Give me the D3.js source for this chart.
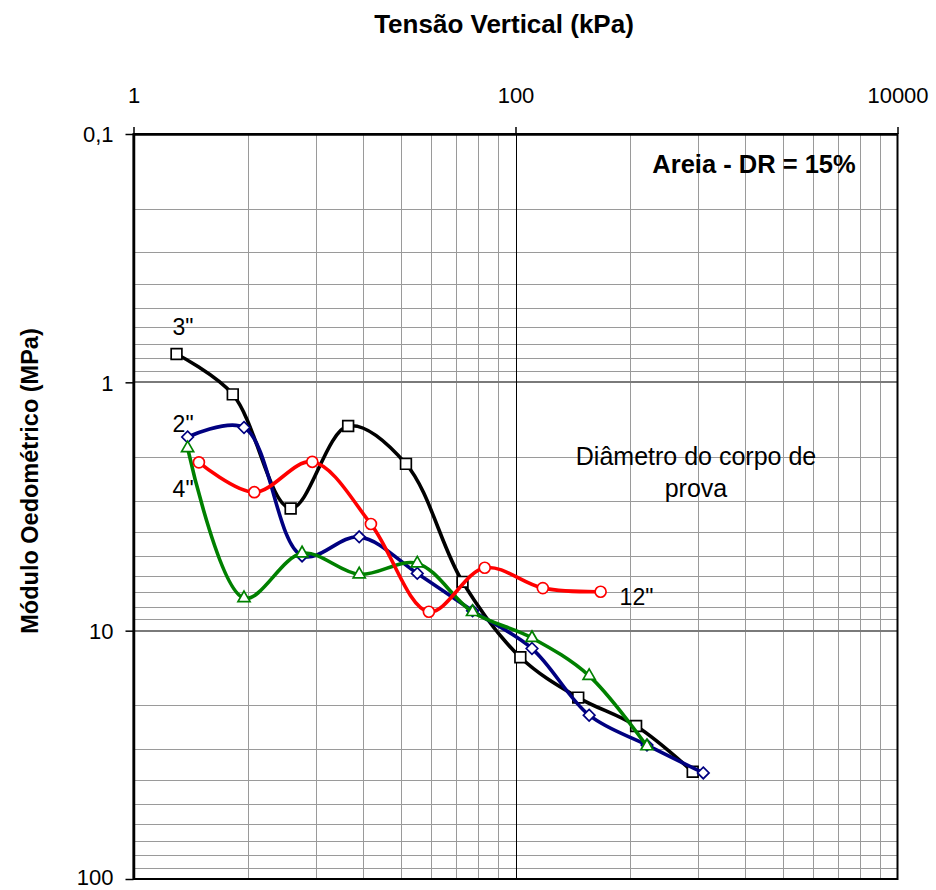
<!DOCTYPE html>
<html>
<head>
<meta charset="utf-8">
<script src="https://cdn.jsdelivr.net/npm/d3@7"></script>
<style>
  html, body { margin: 0; padding: 0; background: #fff; }
  svg { display: block; font-family: "Liberation Sans", Arial, sans-serif; }
</style>
</head>
<body>
<svg id="chart" width="936" height="890"></svg>
<script>
// Vertical stress (kPa) and oedometric modulus (MPa) for each specimen diameter
const stress3 = [1.68, 3.31, 6.65, 13.3, 26.7, 52.8, 106, 213, 428, 847];
const modulus3 = [0.769, 1.118, 3.22, 1.50, 2.13, 6.36, 12.8, 18.6, 24.2, 37.0];

const stress2 = [1.92, 3.79, 7.63, 15.2, 30.6, 59.6, 122, 243, 488, 962];
const modulus2 = [1.66, 1.52, 5.0, 4.19, 5.88, 8.31, 11.8, 21.9, 28.9, 37.4];

const stress4 = [1.92, 3.79, 7.63, 15.2, 30.6, 59.6, 122, 243, 488];
const modulus4 = [1.84, 7.39, 4.88, 5.93, 5.36, 8.41, 10.7, 15.2, 29.2];

const stress12 = [2.20, 4.29, 8.63, 17.5, 35.2, 69.0, 139, 279];
const modulus12 = [2.10, 2.77, 2.09, 3.72, 8.39, 5.58, 6.74, 6.97];

const xTickValues = [1, 100, 10000];
const xTickLabels = ["1", "100", "10000"];
const yTickValues = [0.1, 1, 10, 100];
const yTickLabels = ["0,1", "1", "10", "100"];

const seriesNames = ['3"', '2"', '4"', '12"'];

const svg = d3.select("#chart");
const plotLeft = 133.5, plotRight = 897.5, plotTop = 134, plotBottom = 879;

const x = d3.scaleLog().domain([1, 10000]).range([plotLeft, plotRight]);
const y = d3.scaleLog().domain([0.1, 100]).range([plotTop, plotBottom]);

// Minor gridlines: the x axis steps by a factor of 100, so its minor lines sit at k² within each step
const xMinor = [];
[1, 100].forEach(m => { for (let k = 2; k <= 9; k++) xMinor.push(m * k * k); });
const yMinor = [];
[0.1, 1, 10].forEach(m => { for (let k = 2; k <= 9; k++) yMinor.push(m * k); });

const grid = svg.append("g").attr("shape-rendering", "crispEdges");
grid.selectAll(".xm").data(xMinor).join("line")
  .attr("x1", d => Math.round(x(d)) + 0.5).attr("x2", d => Math.round(x(d)) + 0.5)
  .attr("y1", plotTop).attr("y2", plotBottom)
  .attr("stroke", "#9a9a9a").attr("stroke-width", 1);
grid.selectAll(".ym").data(yMinor).join("line")
  .attr("x1", plotLeft).attr("x2", plotRight)
  .attr("y1", d => Math.round(y(d)) + 0.5).attr("y2", d => Math.round(y(d)) + 0.5)
  .attr("stroke", "#9a9a9a").attr("stroke-width", 1);
grid.selectAll(".yM").data([1, 10]).join("line")
  .attr("x1", plotLeft).attr("x2", plotRight)
  .attr("y1", d => Math.round(y(d))).attr("y2", d => Math.round(y(d)))
  .attr("stroke", "#7a7a7a").attr("stroke-width", 2);
grid.selectAll(".xM").data([100]).join("line")
  .attr("x1", d => Math.round(x(d)) + 0.5).attr("x2", d => Math.round(x(d)) + 0.5)
  .attr("y1", plotTop).attr("y2", plotBottom)
  .attr("stroke", "#000").attr("stroke-width", 1);

// Plot frame
svg.append("rect")
  .attr("x", plotLeft).attr("y", plotTop).attr("width", plotRight - plotLeft).attr("height", plotBottom - plotTop)
  .attr("fill", "none").attr("stroke", "#000").attr("stroke-width", 2);

// Axes
const xAxis = d3.axisTop(x).tickValues(xTickValues)
  .tickFormat((d, i) => xTickLabels[i]).tickSize(7).tickSizeOuter(0).tickPadding(24);
const gx = svg.append("g").attr("transform", `translate(0,${plotTop})`).call(xAxis);
gx.select(".domain").attr("stroke-width", 2.5);
gx.selectAll(".tick line").attr("stroke-width", 1.5);
gx.selectAll(".tick text").attr("font-size", 22).attr("font-family", "Liberation Sans, Arial, sans-serif").attr("fill", "#000");

const yAxis = d3.axisLeft(y).tickValues(yTickValues)
  .tickFormat((d, i) => yTickLabels[i]).tickSize(8).tickSizeOuter(0).tickPadding(12);
const gy = svg.append("g").attr("transform", `translate(${plotLeft},0)`).call(yAxis);
gy.select(".domain").attr("stroke-width", 2.5);
gy.selectAll(".tick line").attr("stroke-width", 1.5);
gy.selectAll(".tick text").attr("font-size", 22)
  .attr("dy", (d, i, n) => i === n.length - 1 ? "0.26em" : "0.36em")
  .attr("font-family", "Liberation Sans, Arial, sans-serif").attr("fill", "#000");

// Axis titles
svg.append("text").attr("x", 504).attr("y", 33).attr("text-anchor", "middle")
  .attr("font-size", 26).attr("font-weight", "bold").text("Tensão Vertical (kPa)");
svg.append("text").attr("transform", "translate(38,481) rotate(-90)").attr("text-anchor", "middle")
  .attr("font-size", 23.5).attr("font-weight", "bold").text("Módulo Oedométrico (MPa)");

// Annotations
svg.append("text").attr("x", 754).attr("y", 173).attr("text-anchor", "middle")
  .attr("font-size", 25.5).attr("font-weight", "bold").text("Areia - DR = 15%");
svg.append("text").attr("x", 696).attr("y", 465).attr("text-anchor", "middle")
  .attr("font-size", 25).text("Diâmetro do corpo de");
svg.append("text").attr("x", 696).attr("y", 497).attr("text-anchor", "middle")
  .attr("font-size", 25).text("prova");

// Series
const series = [
  { name: seriesNames[0], xs: stress3, ys: modulus3, color: "#000000", marker: "square" },
  { name: seriesNames[1], xs: stress2, ys: modulus2, color: "#000080", marker: "diamond" },
  { name: seriesNames[2], xs: stress4, ys: modulus4, color: "#008000", marker: "triangle" },
  { name: seriesNames[3], xs: stress12, ys: modulus12, color: "#ff0000", marker: "circle" }
];

const line = d3.line().x(d => x(d[0])).y(d => y(d[1])).curve(d3.curveCatmullRom.alpha(0.5));

const symbols = {
  square: d3.symbol().type(d3.symbolSquare).size(115),
  diamond: d3.symbol().type(d3.symbolDiamond2).size(85),
  triangle: d3.symbol().type(d3.symbolTriangle2).size(105),
  circle: d3.symbol().type(d3.symbolCircle).size(95)
};

series.forEach(s => {
  const pts = s.xs.map((v, i) => [v, s.ys[i]]);
  const g = svg.append("g");
  g.append("path").datum(pts).attr("d", line)
    .attr("fill", "none").attr("stroke", s.color).attr("stroke-width", 3.6)
    .attr("stroke-linejoin", "round");
  g.selectAll("path.m").data(pts).join("path").attr("class", "m")
    .attr("transform", d => `translate(${x(d[0])},${y(d[1])})`)
    .attr("d", symbols[s.marker]())
    .attr("fill", "#fff").attr("stroke", s.color).attr("stroke-width", 1.7);
});

// Series labels, placed next to an end point of each curve
const labelFont = 23;
svg.append("text").attr("x", x(stress3[0]) - 4).attr("y", y(modulus3[0]) - 19)
  .attr("font-size", labelFont).text(seriesNames[0]);
svg.append("text").attr("x", x(stress2[0]) - 15).attr("y", y(modulus2[0]) - 5)
  .attr("font-size", labelFont).text(seriesNames[1]);
svg.append("text").attr("x", x(stress4[0]) - 15).attr("y", y(modulus4[0]) + 49)
  .attr("font-size", labelFont).text(seriesNames[2]);
svg.append("text").attr("x", x(stress12[stress12.length - 1]) + 19).attr("y", y(modulus12[modulus12.length - 1]) + 13)
  .attr("font-size", labelFont).text(seriesNames[3]);
</script>
</body>
</html>
